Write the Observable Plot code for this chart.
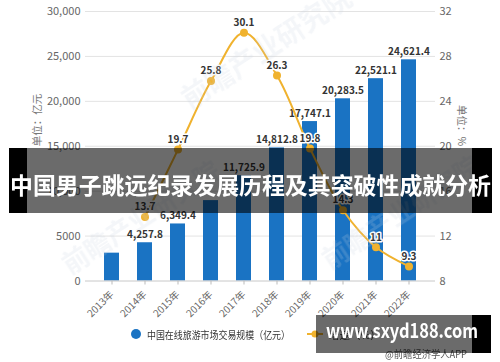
<!DOCTYPE html>
<html><head><meta charset="utf-8">
<script src="https://cdn.jsdelivr.net/npm/d3@7"></script>
<script src="https://cdn.jsdelivr.net/npm/@observablehq/plot@0.6"></script>
<style>
body{margin:0;background:#fff;}
#wrap{position:relative;width:500px;height:362px;overflow:hidden;background:#fff;font-family:"Noto Sans CJK SC","Noto Sans",sans-serif;}
#overlay{position:absolute;left:0;top:0;pointer-events:none;}
</style></head><body>
<div id="wrap"></div>
<script>
// ---- data ----
const years = ["2013年","2014年","2015年","2016年","2017年","2018年","2019年","2020年","2021年","2022年"];
const marketSize = [3100, 4257.8, 6349.4, 8950, 11725.9, 14812.8, 17747.1, 20283.5, 22521.1, 24621.4];
const marketLabels = [null, "4,257.8", "6,349.4", null, "11,725.9", "14,812.8", "17,747.1", "20,283.5", "22,521.1", "24,621.4"];
const growthYears = ["2014年","2015年","2016年","2017年","2018年","2019年","2020年","2021年","2022年"];
const growthRate = [13.7, 19.7, 25.8, 30.1, 26.3, 19.8, 14.3, 11, 9.3];
const leftTicks = [0, 5000, 10000, 15000, 20000, 25000, 30000];
const leftTickLabels = ["0", "5000", "10,000", "15,000", "20,000", "25,000", "30,000"];
const rightTickLabels = ["8", "12", "16", "20", "24", "28", "32"];
const rightDomain = [8, 32];

const BLUE = "#1a73c3", GOLD = "#f0b22e";
const FONT = '"Noto Sans CJK SC","Noto Sans",sans-serif';

const bars = years.map((y, i) => ({year: y, value: marketSize[i], label: marketLabels[i]}));
const growth = growthYears.map((y, i) => ({year: y, rate: growthRate[i]}));
// map right-axis values onto the left y scale
const toLeft = g => (g - rightDomain[0]) / (rightDomain[1] - rightDomain[0]) * leftTicks[leftTicks.length - 1];

const chart = Plot.plot({
  width: 500, height: 362,
  marginLeft: 85, marginRight: 65, marginTop: 11, marginBottom: 81.5,
  style: {fontFamily: FONT, fontSize: "11px", color: "#666", background: "transparent"},
  x: {type: "band", domain: years, paddingInner: 0.55, paddingOuter: 0.47},
  y: {domain: [0, 30000]},
  marks: [
    Plot.gridY(leftTicks.slice(1), {stroke: "#e3e3e3", strokeOpacity: 1}),
    Plot.axisY(leftTicks, {anchor: "left", tickSize: 0, tickPadding: 5, label: null,
      tickFormat: d => leftTickLabels[leftTicks.indexOf(d)]}),
    Plot.axisY(leftTicks, {anchor: "right", tickSize: 0, tickPadding: 4, label: null,
      tickFormat: d => rightTickLabels[leftTicks.indexOf(d)]}),
    Plot.barY(bars, {x: "year", y: "value", fill: BLUE}),
    Plot.ruleY([0], {stroke: "#c8c8c8"}),
    Plot.axisX({tickSize: 4, tickRotate: -45, stroke: "#bbb", fontSize: 10, label: null}),
    Plot.text(bars.filter(d => d.label), {x: "year", y: "value", text: "label", dy: -8,
      fontWeight: "bold", fill: "#333", fontSize: 10}),
    Plot.line(growth, {x: "year", y: d => toLeft(d.rate), stroke: GOLD, strokeWidth: 2, curve: "catmull-rom"}),
    Plot.dot(growth, {x: "year", y: d => toLeft(d.rate), r: 4, fill: GOLD}),
    Plot.text(growth, {x: "year", y: d => toLeft(d.rate), text: d => String(d.rate), dy: -10,
      fontWeight: "bold", fill: "#333", fontSize: 10, stroke: "white", strokeWidth: 3}),
    Plot.text(["单位：亿元"], {frameAnchor: "left", dx: -48, rotate: -90, fill: "#777", fontSize: 10.5}),
    Plot.text(["单位：%"], {frameAnchor: "right", dx: 26, rotate: 90, fill: "#777", fontSize: 10.5})
  ]
});
const wrap = document.getElementById("wrap");
wrap.appendChild(chart);

const ns = "http://www.w3.org/2000/svg";
const ov = document.createElementNS(ns, "svg");
ov.setAttribute("id", "overlay");
ov.setAttribute("width", 500);
ov.setAttribute("height", 362);
ov.innerHTML = `
  <g font-family='${FONT}' font-weight="bold" fill="#c9d3e0" opacity="0.2">
    <text x="190" y="110" font-size="28" transform="rotate(-33 190 110)">前瞻产业研究院</text>
    <text x="330" y="270" font-size="26" transform="rotate(-33 330 270)">前瞻产业研究院</text>
    <text x="70" y="275" font-size="26" transform="rotate(-33 70 275)">前瞻产业研究院</text>
  </g>
  <circle cx="136" cy="334" r="5" fill="${BLUE}"/>
  <text x="147" y="334" dominant-baseline="central" font-family='${FONT}' font-size="10.5" fill="#333" textLength="143" lengthAdjust="spacingAndGlyphs">中国在线旅游市场交易规模（亿元）</text>
  <line x1="307" x2="323" y1="334" y2="334" stroke="${GOLD}" stroke-width="2"/>
  <circle cx="315" cy="334" r="3.5" fill="${GOLD}"/>
  <text x="329" y="334" dominant-baseline="central" font-family='${FONT}' font-size="10.5" fill="#333">增速（%）</text>
  <text x="385" y="353" dominant-baseline="central" font-family='${FONT}' font-size="10" fill="#555" textLength="82" lengthAdjust="spacingAndGlyphs">@前瞻经济学人APP</text>
  <rect x="9" y="148" width="483" height="65" fill="rgba(0,0,0,0.58)"/>
  <rect x="9" y="148" width="18" height="65" fill="#000"/>
  <rect x="472" y="148" width="20" height="65" fill="#000"/>
  <text x="10" y="184" dominant-baseline="central" font-family='${FONT}' font-size="23" font-weight="bold" fill="#fff" textLength="481" lengthAdjust="spacingAndGlyphs">中国男子跳远纪录发展历程及其突破性成就分析</text>
  <rect x="316" y="315" width="175" height="38" fill="rgba(0,0,0,0.58)"/>
  <rect x="472" y="315" width="19" height="38" fill="#000"/>
  <text x="326" y="338" font-family='${FONT}' font-size="20" font-weight="bold" fill="#fff" textLength="152" lengthAdjust="spacingAndGlyphs">www.sxyd188.com</text>
`;
wrap.appendChild(ov);
</script>
</body></html>
